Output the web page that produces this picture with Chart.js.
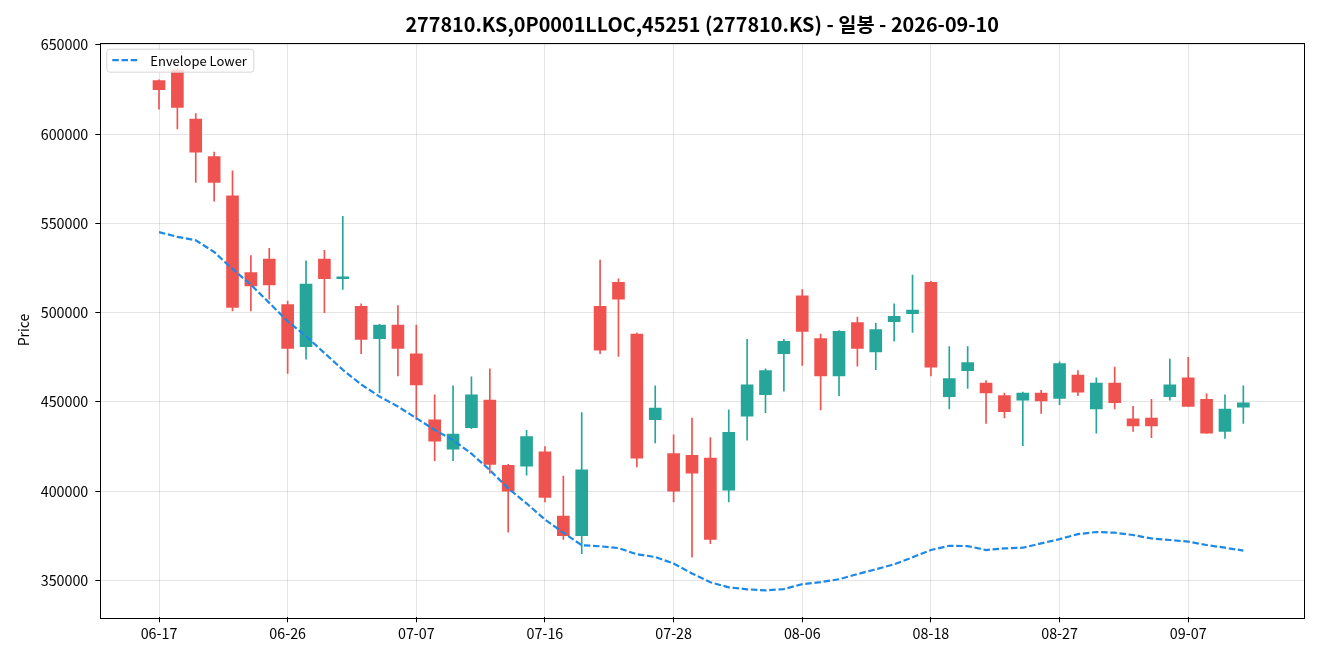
<!DOCTYPE html>
<html>
<head>
<meta charset="utf-8">
<script src="https://cdn.jsdelivr.net/npm/chart.js@4.4.1/dist/chart.umd.min.js"></script>
<style>
  html, body { margin: 0; padding: 0; background: #fff; }
</style>
</head>
<body>
<canvas id="chart" width="1320" height="660"></canvas>
<script>
// daily candles, 277810.KS
const dates = ['06-17','06-18','06-19','06-22','06-23','06-24','06-25','06-26','06-29','06-30',
  '07-01','07-02','07-03','07-06','07-07','07-08','07-09','07-10','07-13','07-14',
  '07-15','07-16','07-20','07-21','07-22','07-23','07-24','07-27','07-28','07-29',
  '07-30','07-31','08-03','08-04','08-05','08-06','08-07','08-10','08-11','08-12',
  '08-13','08-14','08-18','08-19','08-20','08-21','08-24','08-25','08-26','08-27',
  '08-28','08-31','09-01','09-02','09-03','09-04','09-07','09-08','09-09','09-10'];

const opens = [630000,636000,608500,587500,565500,522500,530000,504500,481000,530000,
  519000,503500,485500,493000,477000,440000,423500,435500,451000,414500,
  414000,422000,386000,375000,503500,517000,488000,440000,421000,420000,
  418500,400500,442000,454000,477000,509500,485500,464500,494500,478000,
  495000,499500,517000,453000,467500,460500,453500,451000,455000,452000,
  465000,446000,460500,440500,441000,453000,463500,451500,433500,447000];
const highs = [630500,637000,611500,590000,579500,532000,536000,506500,529000,535000,
  554000,505000,493500,504000,493000,454000,459000,464000,468500,415000,
  434000,425000,408500,444000,529500,519000,488500,459000,431500,441000,
  430000,445500,485000,468500,485000,513000,488000,490000,497500,494000,
  505000,521000,517500,481000,481000,462000,455000,455500,456500,472500,
  467500,463500,469500,447500,451500,474000,475000,454500,454000,459000];
const lows = [614000,603000,573000,562500,501000,501000,507500,466000,474000,500000,
  513000,477000,455000,464500,440000,417000,417000,435000,410000,377000,
  409000,394000,373000,365000,477000,475500,413500,427000,394000,363000,
  370500,394000,428500,444000,456000,470500,445500,453500,470000,468000,
  484000,489000,464500,446000,457500,438000,441000,425500,443500,448500,
  453500,432500,446000,433500,430000,451000,447500,432500,429500,438000];
const closes = [625000,615000,590000,573000,503000,515000,515500,480000,516000,519000,
  519500,485000,493000,480000,459500,428000,432000,454000,415000,400000,
  430500,396500,375000,412000,479000,507500,418500,446500,400000,410000,
  373000,433000,459500,467500,484000,489500,464500,489500,480000,490500,
  498000,501500,469500,463000,472000,455000,444500,455000,450500,471500,
  455500,460500,449500,436500,436500,459500,447500,432500,446000,449500];
const envLower = [545100,542500,540600,534000,524500,515700,505500,495200,486800,477400,
  468000,459800,453000,447400,440900,434300,428700,421000,411800,401500,
  393100,384100,376700,369700,369100,368100,364600,363100,359400,353900,
  348900,346100,345000,344400,345100,347900,349000,350600,353500,356200,
  359000,362900,367000,369400,369200,367000,367900,368300,370700,373100,
  375900,377100,376700,375400,373500,372600,371700,369800,368300,366700];

const yTicks = [350000, 400000, 450000, 500000, 550000, 600000, 650000];
const xTickIdx = [0, 7, 14, 21, 28, 35, 42, 49, 56];

const UP = '#26a69a';
const DOWN = '#ef5350';
const FONT = "'Noto Sans CJK KR', 'Noto Sans', sans-serif";
const colors = closes.map((c, i) => (c >= opens[i] ? UP : DOWN));

// frame around the plot + legend box in the top-left corner
const framePlugin = {
  id: 'frame',
  afterDatasetsDraw(chart) {
    const { ctx, chartArea: a } = chart;
    ctx.save();
    ctx.strokeStyle = '#000';
    ctx.lineWidth = 1;
    ctx.strokeRect(Math.round(a.left) + 0.5, Math.round(a.top) + 0.5,
      Math.round(a.right - a.left), Math.round(a.bottom - a.top));

    // legend
    const ds = chart.data.datasets[2];
    const lx = a.left + 6, ly = a.top + 6, lw = 147, lh = 23;
    ctx.beginPath();
    ctx.roundRect(lx + 0.5, ly + 0.5, lw, lh, 3);
    ctx.fillStyle = 'rgba(255,255,255,0.8)';
    ctx.fill();
    ctx.strokeStyle = '#d6d6d6';
    ctx.stroke();
    ctx.beginPath();
    ctx.setLineDash(ds.borderDash);
    ctx.strokeStyle = ds.borderColor;
    ctx.lineWidth = ds.borderWidth;
    ctx.moveTo(lx + 6, ly + 11.5);
    ctx.lineTo(lx + 33, ly + 11.5);
    ctx.stroke();
    ctx.setLineDash([]);
    ctx.fillStyle = '#000';
    ctx.font = '13px ' + FONT;
    ctx.textBaseline = 'middle';
    ctx.fillText(ds.label, lx + 44, ly + 12);
    ctx.restore();
  }
};

new Chart(document.getElementById('chart'), {
  type: 'bar',
  data: {
    datasets: [
      {
        label: 'wick',
        data: dates.map((d, i) => ({ x: i, y: [lows[i], highs[i]] })),
        backgroundColor: colors,
        barThickness: 1,
        grouped: false,
        order: 2
      },
      {
        label: 'body',
        data: dates.map((d, i) => ({ x: i, y: [opens[i], closes[i]] })),
        backgroundColor: colors,
        barThickness: 12,
        minBarLength: 2,
        grouped: false,
        order: 1
      },
      {
        type: 'line',
        label: 'Envelope Lower',
        data: envLower.map((v, i) => ({ x: i, y: v })),
        borderColor: '#1e88e5',
        borderWidth: 2.2,
        borderDash: [6.5, 2.7],
        pointRadius: 0,
        fill: false,
        tension: 0,
        order: 0
      }
    ]
  },
  options: {
    responsive: false,
    animation: false,
    devicePixelRatio: 1,
    layout: { padding: { left: 0, right: 16, top: 0, bottom: 0 } },
    plugins: {
      legend: { display: false },
      tooltip: { enabled: false },
      title: {
        display: true,
        fullSize: false,
        text: '277810.KS,0P0001LLOC,45251 (277810.KS) - 일봉 - 2026-09-10',
        color: '#000',
        font: { family: FONT, size: 19.8, weight: 'bold' },
        padding: { top: 12.5, bottom: 6.4 }
      }
    },
    scales: {
      x: {
        type: 'linear',
        offset: false,
        min: -3.194,
        max: 62.30,
        afterBuildTicks: s => { s.ticks = xTickIdx.map(v => ({ value: v })); },
        afterFit: s => { s.height = 42.7; },
        ticks: {
          autoSkip: false,
          maxRotation: 0,
          color: '#000',
          padding: 3,
          font: { family: FONT, size: 14.3 },
          callback: v => dates[v]
        },
        grid: { offset: false, color: 'rgba(0,0,0,0.1)', tickColor: '#000', tickLength: 5 },
        border: { display: false }
      },
      y: {
        min: 329300,
        max: 651300,
        afterBuildTicks: s => { s.ticks = yTicks.map(v => ({ value: v })); },
        afterFit: s => { s.width = 100.3; },
        ticks: {
          color: '#000',
          padding: 7,
          font: { family: FONT, size: 14.3 },
          callback: v => String(v)
        },
        grid: { color: 'rgba(0,0,0,0.1)', tickColor: '#000', tickLength: 5 },
        border: { display: false },
        title: {
          display: true,
          text: 'Price',
          color: '#000',
          font: { family: FONT, size: 14 },
          padding: { top: 15, bottom: 0 }
        }
      }
    }
  },
  plugins: [framePlugin]
});
</script>
</body>
</html>
